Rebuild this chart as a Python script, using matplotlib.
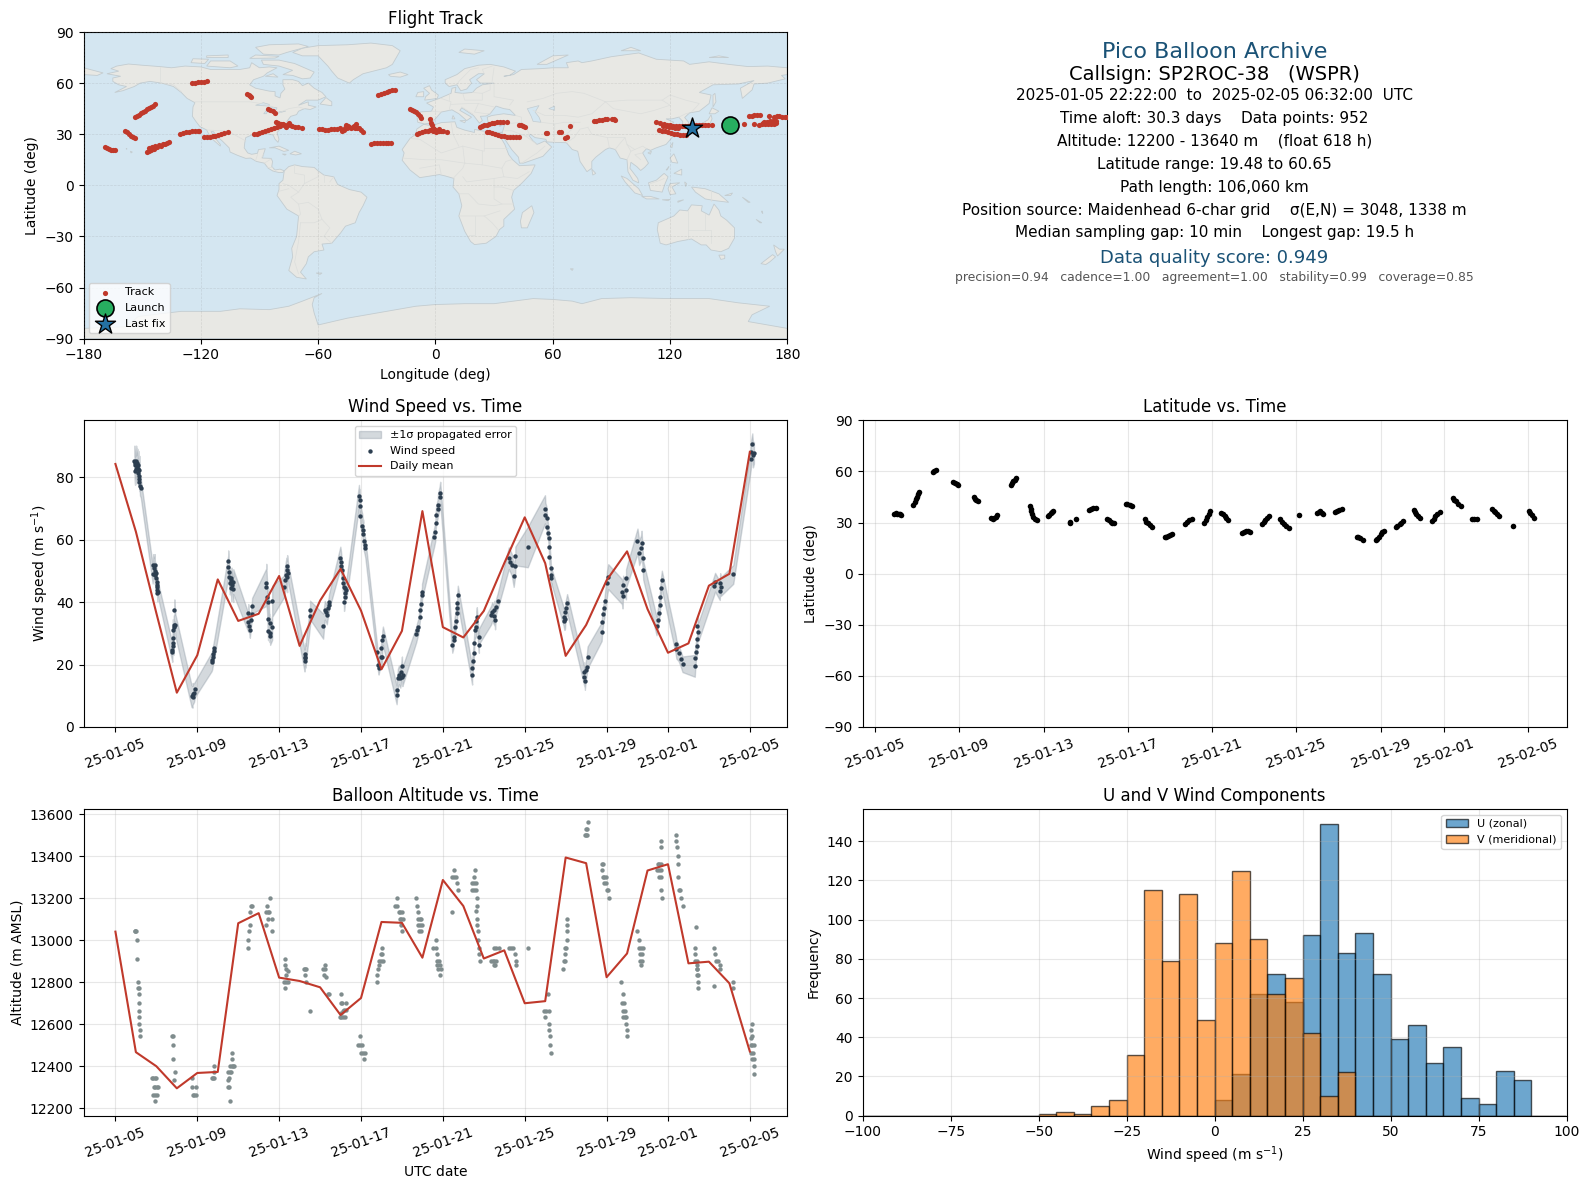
import datetime as dt
import numpy as np
import matplotlib
matplotlib.use("Agg")
import matplotlib.pyplot as plt
import matplotlib.dates as mdates
from matplotlib.patches import Polygon

# ---------- data ----------
start_date = dt.datetime(2025, 1, 5)
tick_dates = [dt.datetime(2025,1,5), dt.datetime(2025,1,9), dt.datetime(2025,1,13), dt.datetime(2025,1,17),
              dt.datetime(2025,1,21), dt.datetime(2025,1,25), dt.datetime(2025,1,29), dt.datetime(2025,2,1),
              dt.datetime(2025,2,5)]

wind_daily_mean = [84.3,62.6,36.5,11,23,47.3,34,36.3,48.4,26,40.5,50.7,37.3,18.5,30.8,69.2,32,28.7,37.2,52.5,
                   67.2,52.5,22.8,32.7,47,56.3,37.8,23.8,26.8,45.3,49.1,88.2]
alt_daily_mean = [13041,12467,12400,12295,12368,12373,13081,13129,12822,12806,12776,12644,12725,13087,13083,12917,
                  13287,13163,12913,12952,12700,12710,13394,13367,12824,12937,13332,13362,12890,12898,12795,12470]

# day offset from 01-05, speed (m/s), 1-sigma error (m/s)
wind_points = [
 (.93,85.4,4.8),(.96,84.7,4.8),(1.01,85.4,4.8),(.96,84,4.5),(1.07,84.7,4.5),(1.04,83.4,4.5),(1.12,84,4.5),(1.01,82.6,4.5),
 (1.09,82.6,4.5),(1.17,82.4,4.5),(.96,82.1,4.5),(1.12,81.3,4),(1.17,80.4,4),(1.17,79.5,3.5),(1.17,78.6,3),(1.2,77.2,3),(1.24,76.5,3),
 (1.85,51.9,3.5),(1.92,51.9,3.5),(1.89,50.9,3.5),(1.93,50.1,3),(1.82,49,3),(1.98,49.3,3),(1.93,48.7,3),(1.98,47.6,3),(2.02,46.6,2.5),
 (2.02,45.5,2.5),(2.05,45,2.5),(2.05,43.9,2.5),(2.1,43.4,2.5),(2.05,42.8,2.5),
 (2.78,23.9,3),(2.78,24.7,3),(2.83,26.1,3),(2.83,26.8,3),(2.83,28.6,3),(2.81,31.1,3.5),(2.85,32.2,3.5),(2.88,32.6,3.5),(2.93,32.6,3.5),(2.88,37.4,3.5),
 (3.72,9.9,3.5),(3.77,9.7,3.5),(3.77,10.6,3.5),(3.84,11,3),(3.89,12.1,2.5),
 (4.7,20.9,3),(4.73,21.5,3),(4.75,22.3,3),(4.78,23.4,3),(4.81,24.5,3),(4.83,25.2,3),
 (5.51,53.1,3.5),(5.51,51.4,3.5),(5.54,49.8,3.5),(5.56,48.2,3.5),(5.59,46,3.5),(5.63,47.1,3.5),(5.67,47.6,3.5),(5.72,45.5,4),(5.67,44.4,4),(5.76,46.6,4),(5.76,44.1,4),
 (6.49,36.4,3),(6.49,33.5,3),(6.54,32.4,2.5),(6.57,31.1,2.5),(6.62,34.3,2.5),(6.65,36.1,2.5),(6.68,38.9,2.5),
 (7.37,46.3,6),(7.37,44.8,6),(7.41,41.8,5),(7.46,40,4.5),(7.46,34.5,3),(7.46,30.8,3),(7.54,33.2,3),(7.54,30.2,3),(7.56,29.3,3),(7.66,31.9,4),(7.66,40.3,5),
 (8.23,45,3.5),(8.28,47.1,4),(8.33,48.7,4.5),(8.39,48.2,5),(8.36,50.3,4),(8.39,51.6,3.5),(8.44,49.3,3),
 (9.24,21.3,3.5),(9.25,22,3.5),(9.27,23.3,3.5),(9.28,22.5,3.5),(9.51,37.5,3),(9.51,35.6,3),(10.15,32.3,4),
 (10.23,37.4,3),(10.28,36.8,3),(10.33,35.9,3),(10.39,38,2.5),(10.42,39.1,2.5),(10.44,40.2,2.5),
 (10.99,54.3,3.5),(11.02,53,3.5),(11.04,51.6,3.5),(11.07,50.3,3),(11.12,47.6,3),(11.12,46.3,3),(11.15,45,3),(11.2,44.4,3),(11.28,43.9,3),(11.2,42.8,3),(11.2,41.6,3),(11.17,40.2,3),
 (11.9,74.1,3.5),(11.93,72.8,3.5),(11.93,70.9,3.5),(11.97,67.7,3.5),(12.07,64.5,3.5),(12.1,63.1,3.5),(12.1,61.9,3.5),(12.13,59.7,3),(12.18,58.3,3),(12.21,57.3,3),
 (12.78,24.1,2.5),(12.83,19.9,2),(12.86,18.8,2),(12.96,22.5,2.5),(13,25.2,3),(13.02,22.3,3),(13.04,27.9,3),(13.07,29.2,3),
 (13.74,10.3,3),(13.76,11.9,3),(13.8,15.6,3),(13.85,16.7,3),(13.92,15.6,3),(13.97,17.7,3),(14,19.6,3),(14.02,16.1,3),(14.05,16.7,3),
 (14.7,29.7,2.5),(14.75,31.1,2.5),(14.8,32.2,2.5),(14.86,35.4,2.5),(14.89,37.5,2.5),(14.91,39.4,2.5),(14.98,42.3,2.5),(14.98,43.4,2.5),
 (15.58,61,3),(15.63,62.6,3),(15.64,65.3,3),(15.67,67.8,3),(15.74,69.8,3),(15.76,71.2,3.5),(15.84,73.6,3.5),(15.87,75.1,3.5),
 (16.46,26.3,2.5),(16.52,27.9,2.5),(16.52,29,2.5),(16.57,31.9,3),(16.62,34.1,3),(16.68,36.4,3),(16.7,38,3),(16.7,39.6,3),(16.73,42.3,3),
 (17.43,16.6,3),(17.43,18.8,3),(17.47,21.3,3),(17.5,23.6,3),(17.53,26.8,3),(17.55,31.1,3),(17.63,32.2,3),(17.63,34.1,3),(17.66,35.4,3),(17.76,26.3,2.5),(17.76,29,2.5),
 (18.36,35.9,3),(18.41,37,3),(18.52,37.5,3),(18.52,35.6,3),(18.55,34.3,3),(18.6,38.6,2.5),(18.68,40.4,2.5),
 (19.22,54.1,3.5),(19.3,53,3.5),(19.37,51.9,3.5),(19.46,48.4,3.5),(19.54,54.8,3),(19.54,51.6,3),(20.15,57.7,6.5),
 (20.99,69.8,4.5),(21.01,67.9,4),(21.07,66.9,3.5),(21.09,64.2,3),(21.15,62.1,2.5),(21.17,60.5,2.5),(21.2,57.8,2.5),(21.2,54.6,2.5),(21.27,50.9,2.5),(21.29,48.7,2.5),(21.29,47.6,2.5),
 (21.9,35.4,3),(21.94,34.1,3),(21.97,34.5,3),(21.99,37,3),(22.02,38,3),(22.07,39.6,3),
 (22.91,16.1,3),(22.91,17.7,3),(22.94,14.9,3),(22.99,18.3,3),(23.02,19.3,3),(23.07,22.3,3.5),
 (23.76,30.6,3),(23.79,33.8,3),(23.84,36.2,3),(23.89,38,3),(23.93,40.5,3),(24.02,46,4),(24.08,48.2,4),
 (24.75,43.4,4),(24.78,42,4),(24.81,45.5,3),(24.95,47.6,3),(24.95,43.9,3),
 (25.51,59.6,4),(25.59,55.9,4),(25.68,57.3,4),(25.71,58.9,4),(25.76,54.1,3),(25.79,50.2,3),
 (26.44,32.4,3),(26.49,34.3,3),(26.54,36.4,3),(26.6,39.1,3),(26.62,41.8,3),(26.65,44.4,3),(26.7,47.1,3),
 (27.37,26.6,3),(27.41,24.9,3),(27.52,23.6,2.5),(27.63,21.7,2.5),(27.71,20.1,2.5),
 (28.31,19.6,3.5),(28.33,22,3.5),(28.36,24.1,3),(28.41,26,3),(28.44,28.1,3),(28.44,32.4,3),(28.49,30.6,3),
 (29.25,45.3,3),(29.3,46.4,3),(29.53,43.7,3),(29.55,46.3,3),(29.58,45,3),(30.19,48.9,3),
 (31.04,85.8,3.5),(31.07,88.2,4),(31.12,90.6,3.5),(31.15,87.2,4),(31.2,87.9,3.5)]

# day offset from 01-05, altitude (m AMSL)
alt_points = [
 (.95,13043),(.98,13043),(1.01,13043),(1.04,13000),(1.04,12910),(1.12,12800),(1.1,12771),(1.14,12771),(1.17,12743),(1.17,12700),(1.17,12662),(1.17,12633),(1.17,12600),(1.22,12571),(1.22,12543),
 (1.8,12343),(1.86,12343),(1.92,12343),(1.98,12343),(1.87,12300),(1.95,12300),(2.02,12300),(2.1,12300),(1.85,12262),(1.95,12262),(2.04,12262),(1.95,12233),
 (2.78,12543),(2.83,12543),(2.81,12500),(2.83,12433),(2.93,12371),(2.88,12333),
 (3.76,12343),(3.76,12300),(3.92,12300),(3.8,12262),(3.93,12262),(3.86,12262),
 (4.81,12400),(4.81,12371),(4.7,12343),(4.76,12343),(4.83,12343),
 (5.71,12462),(5.72,12433),(5.59,12400),(5.68,12400),(5.79,12400),(5.52,12371),(5.59,12371),(5.67,12371),(5.56,12343),(5.51,12333),(5.56,12300),(5.5,12300),(5.61,12233),(5.74,12400),
 (6.62,13162),(6.67,13162),(6.59,13133),(6.59,13071),(6.54,13043),(6.49,13000),(6.49,12962),
 (7.56,13200),(7.41,13162),(7.38,13133),(7.45,13133),(7.51,13133),(7.46,13100),(7.66,13100),(7.37,13071),(7.66,13043),
 (8.29,12910),(8.29,12881),(8.33,12862),(8.44,12852),(8.33,12833),(8.23,12800),(8.33,12800),(8.44,12800),(8.31,12771),
 (9.2,12862),(9.25,12862),(9.3,12862),(9.28,12833),(9.32,12800),(9.51,12662),
 (10.16,12862),(10.24,12862),(10.24,12881),(10.18,12833),(10.29,12824),(10.38,12743),(10.42,12743),
 (11.04,12743),(11.0,12700),(11.06,12700),(11.25,12700),(11.12,12662),(11.18,12667),(11.28,12667),(11.0,12652),(10.98,12633),(11.04,12633),(11.14,12633),(11.2,12633),
 (11.95,12543),(11.86,12500),(11.95,12500),(12.05,12500),(11.98,12462),(12.08,12462),(12.18,12462),(12.15,12433),
 (13.02,12962),(12.96,12933),(13.02,12933),(12.86,12902),(12.96,12902),(13.07,12902),(12.86,12881),(12.83,12862),(12.8,12833),(12.78,12800),
 (13.76,13200),(13.68,13162),(13.76,13162),(13.84,13133),(13.92,13133),(14.02,13133),(13.89,13100),(13.97,13100),(14.05,13100),(13.97,13071),(13.98,13043),
 (14.68,13200),(14.73,13162),(14.78,13133),(14.78,13100),(14.88,13100),(14.94,13100),(14.78,13071),(14.88,13071),(14.99,13071),(14.83,13043),(14.94,13043),
 (15.64,13000),(15.54,12962),(15.64,12962),(15.71,12933),(15.72,12902),(15.8,12902),(15.71,12881),(15.84,12881),(15.76,12862),(15.92,12862),(15.84,12833),
 (16.52,13333),(16.44,13300),(16.54,13300),(16.65,13300),(16.68,13271),(16.73,13241),(16.44,13133),
 (17.56,13333),(17.51,13300),(17.43,13271),(17.5,13271),(17.6,13271),(17.43,13241),(17.52,13241),(17.63,13241),(17.68,13200),(17.66,13162),(17.63,13138),(17.66,13100),(17.66,13071),(17.71,13043),(17.71,13000),(17.76,12962),(17.76,12933),(17.82,12902),
 (18.52,12962),(18.72,12962),(18.62,12962),(18.36,12902),(18.44,12902),(18.52,12902),(18.6,12902),(18.55,12881),(18.48,12881),
 (19.25,12962),(19.32,12962),(19.41,12962),(19.53,12933),(19.57,12902),(19.57,12881),(20.15,12962),
 (21.12,12743),(20.96,12662),(21.05,12662),(21.17,12662),(20.98,12633),(21.17,12600),(21.2,12571),(21.22,12543),(21.25,12500),(21.29,12462),
 (22.07,13100),(22.05,13071),(22.05,13043),(22.05,13000),(21.97,12962),(22.02,12962),(21.95,12933),(21.92,12902),(21.97,12902),(21.89,12862),
 (23.09,13562),(22.99,13529),(23.05,13529),(22.93,13500),(22.98,13500),(23.03,13500),
 (23.77,13362),(23.82,13362),(23.8,13333),(23.82,13300),(23.89,13300),(23.96,13300),(23.87,13271),(23.98,13271),(24.0,13241),(24.05,13241),(24.1,13200),
 (24.7,12800),(24.81,12743),(24.75,12700),(24.87,12700),(24.8,12662),(24.88,12662),(24.78,12633),(24.88,12633),(24.95,12633),(24.95,12600),(24.98,12571),(25.0,12543),
 (25.51,13043),(25.56,13000),(25.59,12962),(25.68,12962),(25.76,12962),(25.63,12933),(25.72,12933),(25.62,12902),(25.72,12902),(25.68,12881),
 (26.68,13471),(26.68,13443),(26.49,13362),(26.57,13362),(26.65,13362),(26.44,13333),(26.54,13333),(26.65,13333),(26.54,13300),(26.65,13300),(26.68,13241),(26.73,13200),
 (27.37,13500),(27.41,13471),(27.45,13443),(27.51,13400),(27.51,13362),(27.51,13300),(27.56,13241),(27.61,13241),(27.66,13200),(27.71,13162),
 (28.36,13062),(28.34,12962),(28.34,12933),(28.34,12902),(28.41,12902),(28.41,12881),(28.44,12862),(28.41,12862),(28.49,12833),(28.43,12833),(28.47,12800),(28.46,12771),
 (29.25,12962),(29.32,12933),(29.36,12902),(29.46,12902),(29.55,12881),(29.56,12862),(29.27,12781),
 (30.19,12800),(30.19,12771),
 (31.09,12600),(31.07,12571),(31.12,12543),(31.04,12533),(31.06,12500),(31.12,12500),(31.2,12500),(31.07,12462),(31.13,12462),(31.12,12433),(31.2,12433),(31.2,12400),(31.22,12362)]

# day offset from 01-05, latitude (deg)
lat_points = [
 (.91,35.3),(.98,35.4),(1.05,35.3),(1.12,35),(1.18,34.8),(1.23,34.5),
 (1.82,40.2),(1.87,42),(1.92,43.7),(1.97,45.2),(2.03,46.8),(2.1,48),
 (2.73,59.6),(2.8,60.3),(2.9,60.65),
 (3.71,53.9),(3.8,53),(3.87,52.4),(3.94,51.8),
 (4.68,44.7),(4.75,43.8),(4.81,43),(4.87,42.4),
 (5.51,32.4),(5.58,32),(5.65,32.6),(5.72,33.4),(5.8,34.3),
 (6.44,52),(6.5,53),(6.57,54.2),(6.63,55.2),(6.7,56),
 (7.35,39.6),(7.38,38),(7.41,36.5),(7.45,34.9),(7.52,33.4),(7.6,32.2),(7.69,31.4),
 (8.22,33.7),(8.28,34.6),(8.35,35.6),(8.41,36.3),(8.47,36.9),
 (9.26,29.8),(9.27,30.4),(9.53,32),
 (10.17,37.6),(10.25,38.2),(10.35,38.7),(10.47,38.8),
 (11.02,32.2),(11.1,31.2),(11.18,30.2),(11.26,29.8),(11.33,29.9),
 (11.89,40.8),(11.98,40.9),(12.08,40.4),(12.2,39.6),
 (12.8,31.8),(12.87,30.6),(12.94,29.6),(13.03,28.5),(13.14,27.5),
 (13.75,21.6),(13.82,21.7),(13.9,22),(14,22.6),(14.11,23.1),
 (14.72,29.4),(14.8,30.4),(14.9,31.4),(15.04,32.2),
 (15.64,29.8),(15.7,31.2),(15.77,33),(15.84,34.8),(15.91,36.5),
 (16.44,35.5),(16.52,34.8),(16.6,33.8),(16.68,32.6),(16.78,31.4),
 (17.44,24.1),(17.52,24.4),(17.62,24.8),(17.72,24.8),(17.82,24.4),
 (18.37,29.4),(18.45,30.4),(18.53,31.6),(18.62,32.8),(18.71,33.7),
 (19.24,31.8),(19.32,30.6),(19.42,29.2),(19.52,28),(19.64,27),
 (20.15,34.7),
 (21,35.5),(21.07,36.2),(21.14,36.6),(21.22,35.6),(21.29,34.9),
 (21.84,36.1),(21.95,36.6),(22.05,37.4),(22.16,37.8),
 (22.86,21.8),(22.93,21.4),(23.02,20.8),(23.16,20),
 (23.79,19.48),(23.85,20.4),(23.92,21.8),(24,23.2),(24.08,24.2),(24.15,25.1),
 (24.72,27.5),(24.8,28),(24.9,29),(24.98,30),(25.06,31),
 (25.57,37.3),(25.63,36.2),(25.7,35),(25.78,33.7),(25.85,32.7),
 (26.44,31),(26.52,32.2),(26.6,33.6),(26.7,35),(26.8,36.3),
 (27.42,44.5),(27.5,43.5),(27.58,42.4),(27.68,41),(27.8,39.6),
 (28.35,31.8),(28.45,31.8),(28.6,31.8),
 (29.3,37.8),(29.38,37),(29.42,36),(29.55,34.8),(29.62,33.7),
 (30.28,28.2),
 (31.03,36.9),(31.1,35.8),(31.18,34.2),(31.27,32.8)]

# lon, lat
track_points = [
 (-169,22.5),(-168,22),(-167,21.3),(-166,21),(-165,21),(-164,21),
 (-158.8,31.9),(-157.8,31),(-156.8,30),(-155.8,29),(-154.8,28.2),(-153.8,27.8),
 (-153.5,39.9),(-152.5,40.8),(-151.5,41.5),(-150.5,42.3),(-149.5,43),(-148.5,43.8),(-147.5,44.6),(-146.5,45.4),(-145.5,46),(-144.5,46.8),(-143.2,47.7),
 (-147.5,19.3),(-146.5,20),(-146.5,22),(-145.5,20.8),(-145,22.3),(-144,21.6),(-143.5,22.8),(-142.5,22.3),(-141.5,23.5),(-140.5,23.2),(-139.5,24.2),(-138.5,24.4),(-137.5,24.8),(-136.4,25.4),
 (-130.6,29.9),(-129,30.6),(-127.5,31),(-126,31.5),(-124.5,31.8),(-123,31.9),(-121.5,31.9),(-120.7,31.9),
 (-124.4,60),(-123,60.2),(-121.5,60.4),(-120,60.6),(-118.5,60.6),(-116.9,61),
 (-118.6,28.1),(-117,28.2),(-115.5,28.4),(-114,28.7),(-112.5,29),(-111,29.5),(-109.5,30),(-108,30.5),(-106.2,31.1),
 (-96.2,53.5),(-95.5,53),(-94.8,52.3),(-94.2,51.6),
 (-85.5,44.9),(-84.5,44.4),(-83.3,43.5),(-82.2,42.6),
 (-93,29.9),(-91.5,30.4),(-90,30.9),(-88.5,31.4),(-87,32),(-85.5,32.5),(-84,33.1),(-82.5,33.7),(-81,34.4),(-79.5,35),(-78,35.8),
 (-81.7,37.3),(-80.5,36.6),(-79,36),(-77.5,35.5),(-76,35.4),(-74.5,35.6),(-73.5,34.8),(-72,34.3),(-70.5,34),(-68.2,33.4),(-75,36.5),(-76.5,34.5),
 (-59.5,33),(-58,32.8),(-56.5,32.7),(-55,32.6),(-53.5,32.9),(-52,33.1),(-50.5,33.3),(-49,33.6),(-48,32.1),(-47,32.5),(-46,33.5),(-45,33.8),(-44,34.3),(-43,33.8),(-42,34.4),(-41,33.7),(-40,33.9),(-39,33.5),(-38,32.7),(-36.9,31.5),(-45.5,35.6),(-44.5,35),(-40.5,35.9),(-41.5,35),
 (-29.6,52.8),(-28,53.5),(-26.5,54.2),(-25,54.8),(-23.5,55.3),(-22,55.8),(-20.7,55.9),
 (-33,24.2),(-31.5,24.6),(-30,24.9),(-28.5,25.1),(-27,25),(-25.5,24.8),(-24,24.7),(-22.7,24.6),
 (-13,44.6),(-12,44.2),(-11,43.5),(-10,42.8),(-9,41.8),(-8,40.8),(-7.4,39.7),
 (-9.6,30),(-8.2,30.6),(-6.8,31.2),(-5.4,31.8),(-4,32.1),(-2.7,32.4),
 (-2.7,39),(-2,36.8),(-1.5,35.2),(-1,33.5),(-0.5,33),(0,32.4),(1,32),(2,31.8),(3,31.6),(4,31.6),(5.8,31.5),(-1,31.6),(0.5,31.3),(1.8,33),
 (22.9,34),(24,34.6),(25,35.2),(26.2,35.6),(27.5,36),(29,36.3),(30,36.8),(31.5,37.3),(33,37),(34.5,37.1),(36.6,37),
 (26.3,31.5),(27.5,31),(29,30.5),(30.5,30),(32,29.5),(33.5,29),(35,28.7),(36.5,28.5),(38,28.4),(39.5,28.2),(41,28.1),(42.6,28.1),
 (43,35.4),(44,35.3),(44.8,34.9),(45.6,34.4),
 (56.5,30.5),(57.2,30.5),(63.3,31.5),(64,31.5),(68.7,34.6),(66.5,27.9),(67.5,28.4),
 (81,37.5),(82.3,37.9),(83.6,38.2),(85,38.6),(86.5,38.7),(88,38.7),(90.3,39),(91.2,38.7),(92,38.5),
 (113,36.9),(115,36.4),(117,36),(118.5,35.6),(120,35.2),(121.5,34.7),(123,34.7),(124.5,34.7),(126,34.7),(127.5,34.9),(129,34.9),(130.5,35.3),(132,35.4),(133.5,35.4),(135,35.4),(136.5,35.5),(138,35.4),(139.5,35.5),(141.7,35.4),
 (116.5,35),(118,34.6),(119.5,34),(121,34),(122.5,33.5),(124,33.4),
 (114.4,32.4),(116,32.1),(117.5,31.7),(119,31.2),(120.5,30.8),(122,30.4),(123.5,30),(125,29.6),(126.5,29.8),(128,29.5),
 (158,35.8),(163,36),(160.5,40.5),(161.8,40.8),(163,41),(164.5,41),(166,41),(170.4,40.5),
 (165.6,35.4),(167,35.8),(168.5,36),(170,36.2),(171.5,36.2),(173,36.2),(174,36.4),
 (168,37.3),(169.5,37.4),(171,37.5),(172.5,37.6),(174,37.7),(167.5,36.6),(169,36.7),(171,36.8),(173,36.8),
 (173,40.3),(174.5,40.5),(176,40.5),(177.5,40.3),(179,40.1),(180,40)]

launch_lon, launch_lat = [150.8], [35.4]
last_lon, last_lat = [131.5], [33.8]

hist_edges = list(range(-100, 105, 5))
u_lefts = [0,5,10,15,20,25,30,35,40,45,50,55,60,65,70,75,80,85]
u_counts = [8,21,62,72,58,92,149,83,93,72,39,46,27,35,9,6,23,18]
v_lefts = [-50,-45,-40,-35,-30,-25,-20,-15,-10,-5,0,5,10,15,20,25,30,35]
v_counts = [1,2,1,5,8,31,115,79,113,49,88,125,90,62,70,42,10,22]

# coastlines, lon/lat
land_polygons = [
 [(-168,65.5),(-164,66.5),(-162,67),(-166,68.5),(-163,70),(-157,71.2),(-150,70.5),(-141,69.7),(-135,69),(-128,70),(-120,69.5),(-115,68),(-108,68),(-100,68),(-95,69),(-94,72),(-90,69),(-85,69.5),(-81,69),(-86,66),(-88,64),(-93,62),(-95,59),(-92,57),(-85,55.3),(-82,55),(-82,52.5),(-79.5,51.3),(-79,54),(-77,56.5),(-78,59),(-78,62),(-73,62),(-70,61),(-68,58.5),(-65,60),(-62,57),(-58,54.5),(-56,52),(-60,50),(-66,50),(-70,47),(-65,49),(-65,47),(-61,46),(-64,44.5),(-67,45),(-70,43.5),(-71,41.5),(-74,40.5),(-76,37.5),(-76,35),(-79,33.5),(-81,31),(-80,27),(-80.5,25.2),(-82,27),(-83,29.5),(-86,30.3),(-89,30),(-90,29),(-94,29.5),(-97,28),(-97.5,25),(-97.8,22),(-96,19),(-94,18.2),(-91,18.8),(-90.5,21),(-87,21.5),(-88,18),(-88.5,16),(-84,15.8),(-83.3,14),(-83.7,11),(-82,9),(-79.5,9.5),(-77.3,8.5),(-78,7.5),(-80,7.5),(-83,8.3),(-85.5,10),(-87.5,13),(-91.5,14),(-94.5,16),(-97,15.8),(-101,17.5),(-105,19.5),(-105.5,22),(-109,26),(-112,29),(-113.5,31.5),(-114.8,31.5),(-112.5,27.5),(-110,24),(-110,23),(-112,25),(-115,28),(-117,32.5),(-120.5,34.5),(-122.5,37.5),(-124.3,40.5),(-124,46),(-123,48.5),(-127,51),(-130,54.5),(-134,58),(-140,60),(-146,61),(-151,60),(-154,58),(-160,55.5),(-164,54.5),(-158,58),(-162,59),(-165,61),(-165,63),(-161,64)],
 [(-73,78),(-68,76),(-60,76),(-55,70),(-53,67),(-50,63),(-44,60),(-42,62),(-37,65.5),(-25,69),(-22,71),(-20,75),(-18,79),(-22,82),(-33,83.5),(-45,82.5),(-60,82),(-68,80.5)],
 [(-80,73.5),(-72,71.5),(-67,69),(-62,66.5),(-64,63),(-68,62.5),(-73,64.5),(-78,65),(-73,67.5),(-80,70),(-88,71),(-89,73.5)],
 [(-117,70),(-105,69),(-101,70),(-105,73),(-115,73)],
 [(-88,77),(-80,76.5),(-76,78),(-65,81.5),(-70,83),(-85,82.5),(-92,81)],
 [(-125,72),(-118,71.5),(-116,74),(-124,74.3)],
 [(-95,74.5),(-82,74.7),(-80,75.7),(-92,76.5)],
 [(-117,75),(-106,75),(-106,76.5),(-117,76)],
 [(-87,64),(-80.5,63.5),(-83,65.5)],
 [(-59,47.7),(-53,46.7),(-53,49),(-56,51.5)],
 [(-85,22),(-80,23),(-75,20.5),(-77.5,19.9),(-82,22)],
 [(-74.4,18.5),(-72,20),(-68.5,18.5),(-71.5,17.8)],
 [(-78.3,18.4),(-76.3,18.2),(-77,17.7)],
 [(-156,20),(-155,19.5),(-155.7,19)],
 [(-158.2,21.6),(-157.7,21.4),(-158,21.2)],
 [(-77.3,8.5),(-75,11),(-72,12),(-68,11),(-62,10.5),(-60,8.5),(-57,6),(-52,5),(-50,0.5),(-44,-2.5),(-38,-4),(-35,-7),(-37,-12),(-39,-16),(-41,-22),(-46,-24),(-48.5,-28),(-53,-34),(-58,-34.5),(-57,-38),(-62,-39),(-65,-42),(-66,-46),(-69,-51),(-66,-55),(-71,-54),(-75,-50),(-73,-42),(-73.5,-37),(-71,-30),(-70,-18),(-76,-14),(-81,-6),(-80,-2.5),(-80,1),(-78,3),(-77.5,7)],
 [(-61,-51.5),(-58,-51.5),(-59,-52.3)],
 [(-6,35.8),(-2,35),(3,36.8),(10,37.3),(11,34),(15,32.4),(20,31),(20,32.8),(25,31.7),(32,31),(34.3,31.2),(32.5,29.9),(35.5,24),(37.5,18),(39.5,15),(43,11.5),(51,12),(49,7),(44,1),(40,-3),(39,-7),(40.5,-14),(35,-20),(35,-24),(32.8,-26),(31,-30),(26,-34),(20,-34.8),(18,-33),(15,-27),(12,-18),(13.5,-12),(12,-5),(9,-1),(9.5,4),(5,5.5),(2,6.3),(-4,5.2),(-8,4.5),(-13,9),(-17,14.7),(-16,19),(-17,21),(-13,27.5),(-10,30),(-9.5,33)],
 [(-9,37),(-9.3,39),(-9,43),(-2,43.5),(-1,46),(-4.5,48.3),(2,51),(4,52),(8,54),(8.5,57),(10.5,57.5),(10,54.5),(14,54),(19,54.5),(21,57),(24,59),(30,60),(23,60),(21,62),(25,65.5),(22,65.5),(17.5,62),(18.5,60),(16,56.5),(13,55.5),(11,59),(7,58),(5,60),(5,62),(11,65),(15,68.5),(22,70.5),(28,71),(35,69.5),(41,67),(38,64.5),(35,64),(40,65),(44,68),(54,68.5),(60,69),(68,69),(67,72),(73,73),(75,72),(80,73),(90,75.5),(104,77.7),(113,74),(127,73),(130,71),(140,72.5),(150,71),(160,69.7),(170,70),(180,69),(180,65),(177,64.5),(179,62.5),(170,60),(163,59.5),(162,56),(157,51),(156,57),(163,61.5),(155,59.5),(142,59),(135,54.5),(141,53),(140,48),(135,43.5),(130,42.5),(127.5,39.8),(129.5,37),(129,35),(126.5,34.5),(126.5,37.5),(124.5,40),(121,39),(118,39),(122,37),(119,35),(122,31),(121,28),(118,24),(113,22),(110,20.5),(108,21.5),(106,19),(109,13),(107,10.5),(105,8.7),(103,11),(100,13.5),(99.5,10),(103.5,4),(104,1.4),(101,3),(98.5,8),(98,15),(94.5,16),(92,21),(89,22),(87,21),(82,16.5),(80,14),(80,10),(77.5,8),(74,14),(72.8,20),(70,21),(67,25),(61,25.2),(57,25.5),(56.5,27),(51,28),(48.5,30),(48,29),(50,26),(52,24),(56,26),(59.5,22.5),(55,17),(45,13),(43,13),(42.5,16.5),(39,21),(35,28),(34.3,31.2),(35.5,36),(30,36.3),(27,37),(26.5,40),(29,41),(35,42),(41,41),(38,44.5),(35,45),(31,46.5),(28,42),(26,40.7),(23,40.5),(24,38),(22.5,36.5),(19.5,41),(13.5,45.5),(12.5,44),(18.5,40),(16,38),(12,42),(8.5,44.3),(3,43),(0,39),(-2,36.8),(-5.5,36)],
 [(-180,69),(-175,67.5),(-170,66),(-173,64.5),(-180,65)],
 [(114,-22),(113.5,-26),(115,-34),(118,-35),(124,-33),(131,-31.5),(136,-35),(138.5,-35),(141,-38),(146,-39),(150,-37),(153,-31),(153,-25),(149,-20.5),(146,-18),(145,-14.5),(142.5,-11),(141,-15),(140,-17.5),(136,-15),(136.5,-12),(131,-11.5),(129,-15),(125,-14.5),(122,-18),(117,-20.5)],
 [(145,-41),(148,-41),(148,-43),(146,-43.5)],
 [(173,-35),(176,-37.5),(178.5,-37.5),(175,-41.5),(174,-39)],
 [(172.5,-40.7),(174,-42),(171,-45),(169,-46.5),(166.5,-46),(171,-42)],
 [(49.3,-12),(50.4,-16),(47,-25),(44,-25),(43.5,-21),(44.5,-16)],
 [(80,9.5),(82,7),(80.5,6)],
 [(131,34),(135,33.6),(140,35),(141.5,39),(141,41.4),(139.5,38.5),(136,36),(132,35)],
 [(140,42),(141.5,45.5),(145,43.5),(143,42)],
 [(130,33.5),(131.5,33),(131,31),(130,32)],
 [(142,46),(143.5,49),(143,54),(142,53),(142,48)],
 [(120.2,23),(121.5,25.2),(121,22)],
 [(108.7,19),(110.5,20),(110,18.3)],
 [(120,16),(122,18.5),(124,13),(121,13.5)],
 [(122,7),(126,9.5),(126,6)],
 [(118,9),(119.5,11),(118.5,9)],
 [(109,1.5),(113,3),(117,7),(119,5),(117.5,1),(116,-4),(110,-3)],
 [(95,5.5),(98,4),(104,-2),(106,-6),(102,-4.5),(97,2)],
 [(105.5,-6.5),(110,-6.5),(114.5,-8),(108,-8)],
 [(120,1),(125,1.5),(121,-1),(123,-5),(120,-5.5),(119,-2)],
 [(116,-8.5),(120,-8.3),(119,-9)],
 [(124,-10),(127,-8.5),(124,-9.3)],
 [(127.5,2),(128.5,1),(128,-0.8)],
 [(131,-1),(138,-2),(145,-5),(150,-10),(143,-9),(138,-8),(133,-4)],
 [(148,-6),(152,-4.5),(151,-6)],
 [(157,-7),(161,-10),(160,-10)],
 [(164,-20),(167,-22),(166,-22)],
 [(167,-15),(167.5,-16.5),(167,-16)],
 [(-5.5,50),(1,51),(1.5,53),(-2,56),(-3,58.5),(-6,57),(-3,54),(-5,52)],
 [(-10,52),(-6,52),(-6,55),(-9,54.5)],
 [(-24,65),(-18,66.5),(-14,65),(-18,63.5),(-23,64)],
 [(12,78),(20,77),(25,79),(15,80)],
 [(52,71),(57,71),(68,76.5),(60,76)],
 [(95,79),(105,79),(100,81)],
 [(140,75),(150,75),(145,76)],
 [(9,41),(10,39),(8.5,39)],
 [(12.5,38),(15.5,38),(15,36.7)],
 [(23.5,35.5),(26.3,35.2),(24.5,35)],
 [(32.5,35),(34.5,35.6),(33,34.6)],
 [(69,-49),(70.5,-49),(70,-50)],
 [(-180,-84),(-158,-83),(-152,-77),(-130,-74),(-110,-74),(-100,-72.5),(-85,-73),(-75,-71),(-68,-68),(-58,-63.5),(-62,-66),(-63,-70),(-62,-75),(-60,-82),(-45,-78),(-35,-76),(-25,-74),(-10,-71),(0,-70),(15,-69.5),(30,-69.5),(50,-66.5),(60,-67),(70,-68),(75,-69.5),(85,-66.5),(100,-66),(120,-66.5),(140,-66.5),(155,-69),(171,-71),(162,-76),(160,-80),(180,-84),(180,-90),(-180,-90)],
]
lake_polygons = [
 [(47,45),(53,46.8),(51,43),(53,40),(54,37),(50,37.5),(49,40.5)],
 [(-92,47),(-88,48.5),(-85,47.5),(-85,46.5),(-88,46.7)],
 [(-87.8,42),(-85.5,45.5),(-84,46),(-81,45.5),(-82,43),(-83.5,43.8),(-85,45),(-86.5,42)],
 [(-83,41.7),(-79,42.8),(-76.5,43.6),(-79.5,43.3),(-81,42.3)],
 [(58,45),(61,46.5),(61,44)],
]
border_lines = [
 [(-141,69.7),(-141,60)],[(-130,55),(-134,59),(-141,60)],[(-123,49),(-95,49),(-89,48),(-83,46),(-82,42.5),(-79,43),(-75,45),(-70,46),(-67,45)],
 [(-117,32.5),(-106,31.8),(-97,26)],[(-92,14.5),(-91,18)],[(-89,16),(-88,18)],[(-87.5,13),(-84,15.5)],[(-86,11),(-83.7,11)],[(-83,8.3),(-82.6,9.5)],
 [(-72,12),(-72,7),(-67,6),(-67,1),(-70,-4),(-74,-7),(-70,-11),(-69,-17),(-70,-18)],[(-67,1),(-60,5),(-60,8)],[(-57,6),(-57,2)],[(-52,5),(-54,2)],[(-78,1),(-75,0),(-70,-4)],[(-80,-3.5),(-75,-2)],
 [(-70,-11),(-65,-10),(-60,-14),(-58,-20),(-54,-25),(-57,-30),(-53,-34)],[(-69,-22),(-62,-22),(-58,-20)],[(-69,-22),(-70,-33),(-72,-45),(-70,-52)],
 [(-9,27.7),(-2,35)],[(-13,27.5),(-8,27),(3,19),(14,23),(25,20),(25,31.7)],[(8,37),(9,30),(12,23)],[(25,22),(37,22)],[(14,23),(15,13),(24,12),(24,20)],
 [(-17,16),(-5,15),(3,15),(15,13)],[(24,12),(34,10),(36,14),(39,15)],[(34,10),(35,5),(42,4),(48,8)],[(9,4),(14,10),(15,13)],[(-8,10),(-3,11),(2,12),(3,6.3)],
 [(14,5),(16,2),(30,4),(35,5)],[(12,-5),(17,-5),(22,-11),(30,-12),(34,-11),(40,-11)],[(30,4),(30,-8),(34,-11)],[(12,-18),(21,-18),(25,-18),(33,-15)],[(20,-18),(20,-29),(17,-29)],[(25,-18),(29,-22),(32,-26)],[(40,-3),(34,-1),(30,-1)],
 [(-9,42),(-7,37)],[(-2,43.5),(3,43)],[(3,51),(8,49),(7,44)],[(7,54),(7,50)],[(14,54),(15,50),(24,50),(24,54),(19,54.5)],[(8,47.5),(17,48),(22,48),(30,46)],[(24,54),(28,56),(28,60)],[(30,60),(30,52),(40,50),(38,47)],[(13.5,46),(19,42)],[(22,48),(20,43),(26,42),(28,42)],
 [(11,59),(12,61),(18,68),(22,69)],[(25,65.5),(24,68),(29,70)],[(29,61),(30,69)],
 [(27,37),(35.5,36),(44,37),(46,35),(48,30)],[(44,37),(44,40),(41,41)],[(35.5,32),(39,32),(46,29),(48,29)],[(46,29),(52,24)],[(44,13),(52,19),(56,23)],[(61,25),(61,36),(54,37)],[(61,36),(66,37),(71,37),(74,37)],[(61,30),(67,30),(70,33),(71,37)],[(67,25),(71,28),(74,33),(78,34)],
 [(47,49),(55,51),(62,54),(70,55),(76,54),(85,50),(87,49)],[(50,44),(56,41),(66,41),(73,40),(80,42),(87,49)],[(87,49),(98,50),(106,50),(116,50),(120,53),(128,50),(135,48),(131,43)],[(87,49),(91,45),(105,42),(112,44),(120,47),(116,50)],
 [(78,34),(80,30),(88,28),(97,28),(98,24),(102,21),(106,23),(108,21.5)],[(88,28),(89,22)],[(97,28),(94,24),(92,21)],[(98,24),(100,20),(98,15)],[(102,21),(100,20)],[(105,15),(102,18),(106,19)],[(124.5,40),(128,42),(130,42.5)],
 [(141,-2.5),(141,-9)],[(117,4),(115,3),(110,1)],[(141,-34),(141,-26),(129,-26)],[(129,-15),(129,-31.5)],[(138,-26),(138,-17)],
]

# ---------- helpers ----------
W, H = 1589, 1189
RED = '#c0392b'
NAVY = '#1a5276'

def axes_px(left, right, top, bottom):
    return fig.add_axes([left / W, 1 - bottom / H, (right - left) / W, (bottom - top) / H])

def to_dates(days):
    return mdates.date2num(start_date) + np.asarray(days, dtype=float)

def style_time_axis(ax, xmin, xmax):
    ax.set_xlim(to_dates(xmin), to_dates(xmax))
    ax.set_xticks(mdates.date2num(tick_dates))
    ax.xaxis.set_major_formatter(mdates.DateFormatter('%y-%m-%d'))
    ax.tick_params(axis='x', labelrotation=20)
    ax.grid(True, alpha=0.3)

fig = plt.figure(figsize=(W / 100, H / 100), dpi=100)
LX0, LX1, RX0, RX1 = 83.5, 787.3, 862.7, 1566.5

# ---------- map ----------
ax = axes_px(LX0, LX1, 32, 338.6)
ax.set_facecolor('#d4e6f1')
for poly in land_polygons:
    ax.add_patch(Polygon(poly, closed=True, facecolor='#e8e8e4', edgecolor='#c3ccd0', linewidth=0.6, zorder=1))
for poly in lake_polygons:
    ax.add_patch(Polygon(poly, closed=True, facecolor='#d4e6f1', edgecolor='#c3ccd0', linewidth=0.5, zorder=1.1))
for line in border_lines:
    xs, ys = zip(*line)
    ax.plot(xs, ys, color='#dcdedc', lw=0.5, zorder=1.2)
ax.set_xlim(-180, 180)
ax.set_ylim(-90, 90)
ax.set_xticks(range(-180, 181, 60))
ax.set_yticks(range(-90, 91, 30))
ax.grid(True, linestyle='--', color='gray', linewidth=0.5, alpha=0.2, zorder=1.5)
ax.set_axisbelow(False)
tx, ty = zip(*track_points)
ax.scatter(tx, ty, s=14, color=RED, linewidths=0, zorder=3, label='Track')
ax.scatter(launch_lon, launch_lat, s=150, color='#27ae60', edgecolor='black', linewidths=1.2, zorder=5, label='Launch')
ax.scatter(last_lon, last_lat, s=230, marker='*', color='#2471a3', edgecolor='black', linewidths=1.0, zorder=5, label='Last fix')
ax.legend(loc='lower left', fontsize=8, borderaxespad=0.5)
ax.set_xlabel('Longitude (deg)')
ax.set_ylabel('Latitude (deg)')
ax.set_title('Flight Track', fontsize=12)

# ---------- summary text ----------
CX = (RX0 + RX1) / 2
summary_lines = [
    (51.7, 'Pico Balloon Archive', 16, NAVY),
    (74, 'Callsign: SP2ROC-38   (WSPR)', 14, 'black'),
    (95.2, '2025-01-05 22:22:00  to  2025-02-05 06:32:00  UTC', 11, 'black'),
    (118.5, 'Time aloft: 30.3 days    Data points: 952', 11, 'black'),
    (140.8, 'Altitude: 12200 - 13640 m    (float 618 h)', 11, 'black'),
    (164, 'Latitude range: 19.48 to 60.65', 11, 'black'),
    (187.4, 'Path length: 106,060 km', 11, 'black'),
    (210.7, 'Position source: Maidenhead 6-char grid    σ(E,N) = 3048, 1338 m', 11, 'black'),
    (233, 'Median sampling gap: 10 min    Longest gap: 19.5 h', 11, 'black'),
    (258.4, 'Data quality score: 0.949', 13, NAVY),
    (278, 'precision=0.94   cadence=1.00   agreement=1.00   stability=0.99   coverage=0.85', 8.9, '#555555'),
]
for py, txt, size, col in summary_lines:
    fig.text(CX / W, 1 - py / H, txt, fontsize=size, color=col, ha='center', va='center')

# ---------- wind speed ----------
ax = axes_px(LX0, LX1, 420.3, 727)
wp = sorted(wind_points)
wd, ws, we = map(np.array, zip(*wp))
ax.fill_between(to_dates(wd), ws - we, ws + we, color='#85929e', alpha=0.35, label='±1σ propagated error')
ax.scatter(to_dates(wd), ws, s=10, color='#2c3e50', linewidths=0, zorder=3, label='Wind speed')
ax.plot(to_dates(range(len(wind_daily_mean))), wind_daily_mean, color=RED, lw=1.5, zorder=4, label='Daily mean')
style_time_axis(ax, -1.56, 32.83)
ax.set_ylim(0, 98.3)
ax.set_yticks([0, 20, 40, 60, 80])
ax.set_ylabel('Wind speed (m s$^{-1}$)')
ax.set_title('Wind Speed vs. Time', fontsize=12)
ax.legend(loc='upper center', fontsize=8)

# ---------- latitude ----------
ax = axes_px(RX0, RX1, 420.3, 727)
ld, lv = zip(*lat_points)
ax.scatter(to_dates(ld), lv, s=16, color='black', linewidths=0, zorder=3)
style_time_axis(ax, -0.59, 32.83)
ax.set_ylim(-90, 90)
ax.set_yticks(range(-90, 91, 30))
ax.set_ylabel('Latitude (deg)')
ax.set_title('Latitude vs. Time', fontsize=12)

# ---------- altitude ----------
ax = axes_px(LX0, LX1, 809, 1115.6)
ad, av = zip(*alt_points)
ax.scatter(to_dates(ad), av, s=10, color='#7f8c8d', linewidths=0, zorder=3)
ax.plot(to_dates(range(len(alt_daily_mean))), alt_daily_mean, color=RED, lw=1.5, zorder=4)
style_time_axis(ax, -1.56, 32.83)
ax.set_ylim(12165, 13625)
ax.set_yticks(range(12200, 13601, 200))
ax.set_xlabel('UTC date')
ax.set_ylabel('Altitude (m AMSL)')
ax.set_title('Balloon Altitude vs. Time', fontsize=12)

# ---------- histogram ----------
ax = axes_px(RX0, RX1, 809, 1115.6)
ax.hist(np.array(u_lefts) + 2.5, bins=hist_edges, weights=u_counts, color='tab:blue', alpha=0.65,
        edgecolor='black', label='U (zonal)')
ax.hist(np.array(v_lefts) + 2.5, bins=hist_edges, weights=v_counts, color='tab:orange', alpha=0.65,
        edgecolor='black', label='V (meridional)')
ax.set_xlim(-100, 100)
ax.set_ylim(0, 156.45)
ax.set_xticks(range(-100, 101, 25))
ax.set_yticks(range(0, 141, 20))
ax.grid(True, alpha=0.3)
ax.set_xlabel('Wind speed (m s$^{-1}$)')
ax.set_ylabel('Frequency')
ax.set_title('U and V Wind Components', fontsize=12)
ax.legend(loc='upper right', fontsize=8)

fig.savefig('out.png', dpi=100)
